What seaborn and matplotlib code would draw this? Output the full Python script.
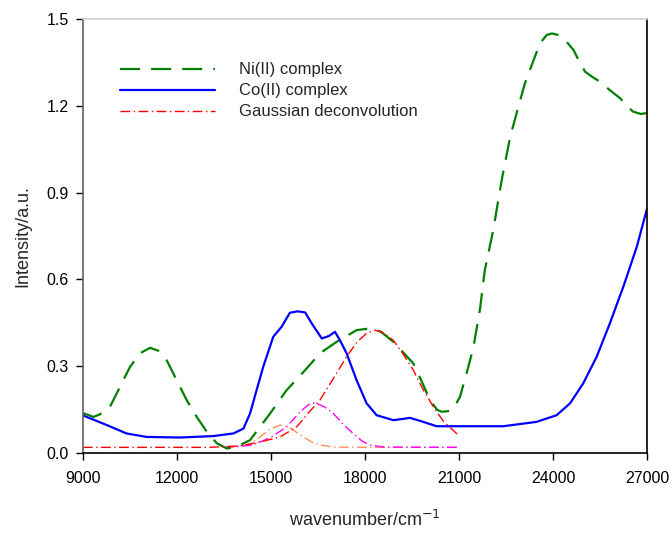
import pandas as pd
import matplotlib
matplotlib.use('Agg')
import matplotlib.pyplot as plt
import seaborn as sns

sns.set_style('ticks')
plt.rcParams['font.family'] = ['Liberation Sans', 'DejaVu Sans']

# ---- data ----
ni_x = [9000, 9120, 9330, 9540, 9860, 10180, 10500, 10820, 11140, 11400, 11670, 11990,
        12310, 12630, 12950, 13270, 13590, 13900, 14330, 14970, 15500, 16140, 16560,
        17100, 17730, 18160, 18500, 18900, 19540, 19800, 20070, 20300, 20440, 20650,
        20820, 21030, 21250, 21460, 21670, 21820, 22090, 22360, 22630, 22900, 23100,
        23350, 23580, 23800, 23960, 24150, 24400, 24650, 24850, 25020, 25250, 25500,
        25800, 26140, 26350, 26550, 26800, 27000]
ni_y = [0.138, 0.134, 0.125, 0.134, 0.160, 0.229, 0.298, 0.345, 0.364, 0.354, 0.321, 0.252,
        0.183, 0.125, 0.074, 0.034, 0.016, 0.022, 0.045, 0.137, 0.218, 0.293, 0.345,
        0.385, 0.425, 0.431, 0.420, 0.385, 0.310, 0.250, 0.183, 0.150, 0.143, 0.145,
        0.154, 0.195, 0.280, 0.367, 0.500, 0.632, 0.771, 0.944, 1.093, 1.200, 1.278,
        1.350, 1.416, 1.445, 1.450, 1.445, 1.425, 1.393, 1.350, 1.318, 1.300, 1.283,
        1.255, 1.226, 1.200, 1.180, 1.172, 1.175]

co_x = [9000, 9120, 9760, 10390, 11030, 12090, 13160, 13800, 14120, 14330, 14540, 14750,
        15070, 15340, 15600, 15850, 16090, 16300, 16620, 16850, 17040, 17200, 17410,
        17730, 18050, 18370, 18900, 19200, 19430, 19800, 20280, 21670, 22410, 23470,
        24110, 24540, 24960, 25390, 25810, 26240, 26670, 27000]
co_y = [0.130, 0.125, 0.097, 0.068, 0.056, 0.054, 0.059, 0.068, 0.085, 0.137, 0.218, 0.298,
        0.402, 0.437, 0.485, 0.490, 0.486, 0.448, 0.396, 0.405, 0.419, 0.390, 0.345,
        0.252, 0.172, 0.131, 0.114, 0.118, 0.122, 0.110, 0.093, 0.093, 0.093, 0.108,
        0.131, 0.172, 0.241, 0.333, 0.448, 0.575, 0.713, 0.846]

g1_x = [9000, 13000, 14000, 14700, 15290, 15820, 16200, 16560, 17000, 17410, 17750,
        18050, 18310, 18600, 18900, 19200, 19540, 19850, 20180, 20500, 20980]
g1_y = [0.020, 0.020, 0.025, 0.040, 0.056, 0.091, 0.140, 0.183, 0.260, 0.333, 0.385,
        0.414, 0.425, 0.415, 0.390, 0.345, 0.287, 0.220, 0.160, 0.110, 0.062]

g2_x = [13500, 14000, 14300, 14650, 14950, 15290, 15600, 16030, 16300, 16560, 17000, 18000, 21000]
g2_y = [0.020, 0.022, 0.030, 0.056, 0.082, 0.097, 0.088, 0.056, 0.038, 0.028, 0.021, 0.020, 0.020]

g3_x = [13500, 14430, 15000, 15500, 15930, 16200, 16400, 16700, 16990, 17300, 17620,
        17900, 18160, 18600, 21000]
g3_y = [0.020, 0.028, 0.055, 0.091, 0.143, 0.168, 0.174, 0.160, 0.137, 0.100, 0.068,
        0.042, 0.028, 0.021, 0.020]

labels = ['Ni(II) complex', 'Co(II) complex', 'Gaussian deconvolution']

fig = plt.figure(figsize=(6.72, 5.35), dpi=100)
ax = fig.add_axes([0.1235, 0.153, 0.8395, 0.8115])

dashdot = (0, (7, 2.5, 1, 2.5))
sns.lineplot(x=g2_x, y=g2_y, ax=ax, color='#ff9060', lw=1.0, linestyle=dashdot, sort=False)
sns.lineplot(x=g3_x, y=g3_y, ax=ax, color='#ff00ff', lw=1.0, linestyle=dashdot, sort=False)
sns.lineplot(x=ni_x, y=ni_y, ax=ax, color='#008000', lw=1.6, linestyle=(0, (9, 5)),
             sort=False, label=labels[0])
sns.lineplot(x=co_x, y=co_y, ax=ax, color='#0000ff', lw=1.6, sort=False, label=labels[1])
sns.lineplot(x=g1_x, y=g1_y, ax=ax, color='#ff0000', lw=1.0, linestyle=dashdot,
             sort=False, label=labels[2])

ax.set_xlim(9000, 27000)
ax.set_ylim(0, 1.5)
ax.set_xticks([9000, 12000, 15000, 18000, 21000, 24000, 27000])
ax.set_yticks([0.0, 0.3, 0.6, 0.9, 1.2, 1.5])
ax.set_yticklabels(['0.0', '0.3', '0.6', '0.9', '1.2', '1.5'])
ax.tick_params(direction='out', length=5, width=1, labelsize=11.5, colors='black')
ax.tick_params(axis='x', pad=8)
ax.tick_params(axis='y', pad=5)

ax.set_xlabel('wavenumber/cm$^{-1}$', fontsize=13, labelpad=17)
ax.set_ylabel('Intensity/a.u.', fontsize=13, labelpad=11)

ax.spines['top'].set_color('#d0d0d0')
ax.spines['left'].set_color('#606060')
ax.spines['right'].set_color('black')
ax.spines['bottom'].set_color('black')
for s in ax.spines.values():
    s.set_linewidth(1.2)

ax.legend(loc='upper left', bbox_to_anchor=(0.066, 0.90), frameon=False, fontsize=12,
          handlelength=5.7, handletextpad=1.4, labelspacing=0.36, borderaxespad=0,
          borderpad=0)

fig.savefig('out.png', dpi=100)
